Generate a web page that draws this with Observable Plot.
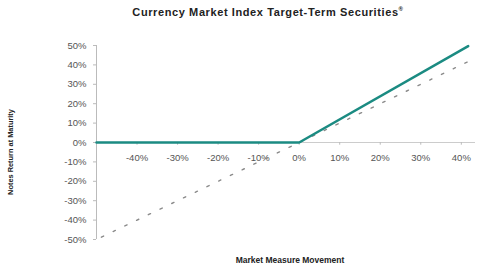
<!DOCTYPE html>
<html>
<head>
<meta charset="utf-8">
<script src="https://cdn.jsdelivr.net/npm/d3@7"></script>
<script src="https://cdn.jsdelivr.net/npm/@observablehq/plot@0.6"></script>
<style>
  html, body { margin: 0; padding: 0; background: #fff; }
  #wrap { position: relative; width: 479px; height: 265px; overflow: hidden; font-family: Arial, "Liberation Sans", sans-serif; }
  #title { position: absolute; left: 0; width: 536px; top: 6px; text-align: center; font-size: 11px; font-weight: bold; color: #222; letter-spacing: 0.6px; z-index: 2; }
  #title sup { font-size: 6px; }
  #ylab { position: absolute; left: 10px; top: 152px; width: 0; height: 0; z-index: 2; }
  #ylab span { position: absolute; transform: translate(-50%, -50%) rotate(-90deg); white-space: nowrap; font-size: 7.4px; font-weight: bold; color: #222; }
  svg { position: absolute; left: 0; top: 0; }
</style>
</head>
<body>
<div id="wrap">
  <div id="title">Currency Market Index Target-Term Securities<sup>®</sup></div>
  <div id="ylab"><span id="ylabText"></span></div>
</div>
<script>
// Market measure movement (x) and Notes return at maturity (y)
const notesX = [-0.5, 0, 0.417];
const notesY = [0, 0, 0.497];
const directX = [-0.488, 0.43];
const directY = [-0.488, 0.43];
const xTicks = [-0.4, -0.3, -0.2, -0.1, 0, 0.1, 0.2, 0.3, 0.4];
const yTicks = [-0.5, -0.4, -0.3, -0.2, -0.1, 0, 0.1, 0.2, 0.3, 0.4, 0.5];
const xLabel = "Market Measure Movement";
const yLabel = "Notes Return at Maturity";

const notes = notesX.map((x, i) => ({x, y: notesY[i]}));
const direct = directX.map((x, i) => ({x, y: directY[i]}));
const pct = d => Math.round(d * 100) + "%";

document.getElementById("ylabText").textContent = yLabel;

const chart = Plot.plot({
  width: 479,
  height: 265,
  marginLeft: 96,
  marginRight: 4,
  marginTop: 45,
  marginBottom: 26,
  style: {fontFamily: "Arial, 'Liberation Sans', sans-serif", background: "transparent"},
  x: {domain: [-0.5, 0.435], axis: null},
  y: {domain: [-0.5, 0.5], axis: null},
  marks: [
    Plot.ruleX([-0.5], {y1: -0.5, y2: 0.5, stroke: "#bbb"}),
    Plot.axisY(yTicks, {anchor: "left", label: null, tickSize: 3, tickPadding: 7, tickFormat: pct, fontSize: 9.5, fill: "#555", stroke: "#bbb"}),
    Plot.ruleY([0], {stroke: "#ccc"}),
    Plot.ruleX(xTicks, {x: d => d, y1: 0, y2: -0.014, stroke: "#bbb"}),
    Plot.text(xTicks, {x: d => d, y: 0, dy: 15, text: pct, fontSize: 9.5, fill: "#555"}),
    Plot.line(direct, {x: "x", y: "y", stroke: "#8a8a8a", strokeWidth: 1.4, strokeDasharray: "2.5,10.5"}),
    Plot.line(notes, {x: "x", y: "y", stroke: "#1b8b82", strokeWidth: 2.5}),
    Plot.text([xLabel], {frameAnchor: "bottom", dx: 4, dy: 23, fontSize: 8.5, fontWeight: "bold", fill: "#222", letterSpacing: "0.6px"})
  ]
});
document.getElementById("wrap").prepend(chart);
</script>
</body>
</html>
